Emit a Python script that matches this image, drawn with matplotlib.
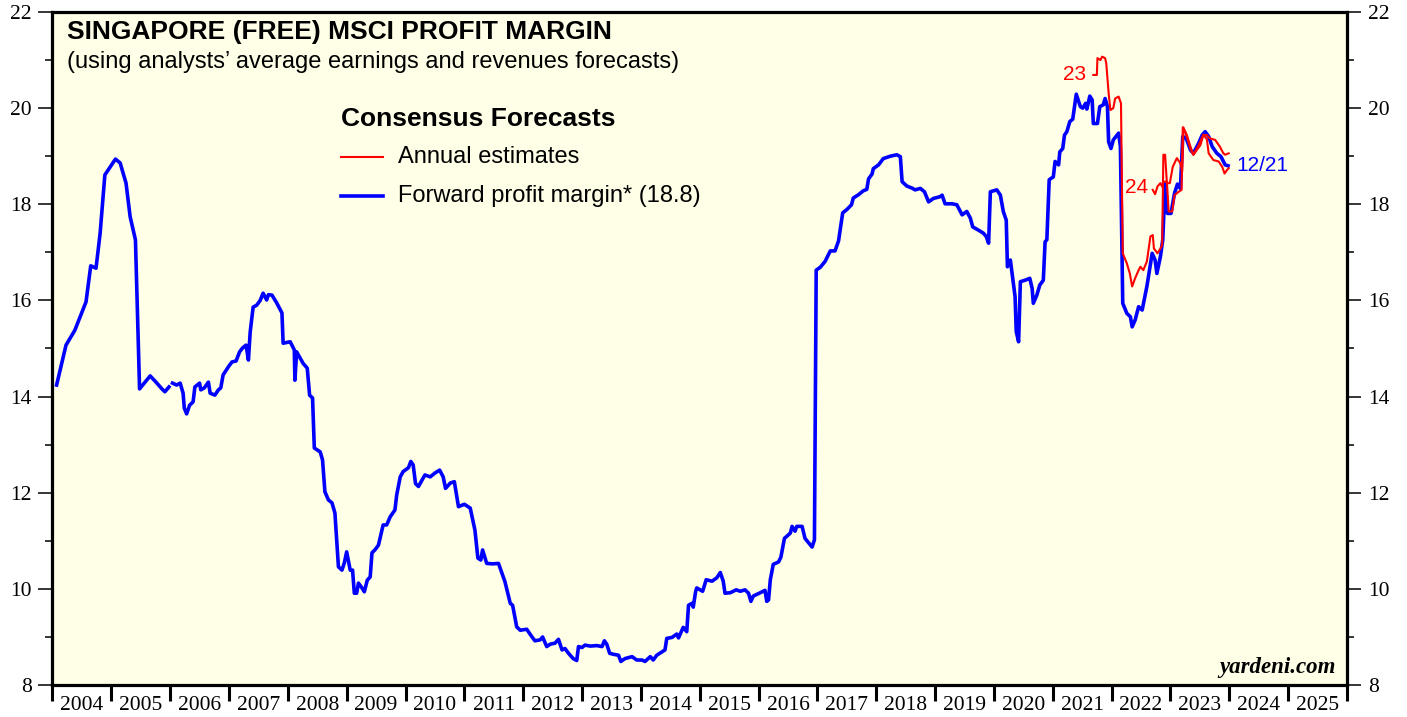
import matplotlib
matplotlib.use("Agg")
import matplotlib.pyplot as plt
import numpy as np
from matplotlib.lines import Line2D

# ---------------- data ----------------
fwd_years = [2004.07, 2004.23, 2004.38, 2004.57, 2004.65, 2004.74, 2004.81, 2004.89, 2005.07, 2005.15,
             2005.25, 2005.32, 2005.41, 2005.48, 2005.66, 2005.76, 2005.86, 2005.91, 2005.98, 2006.01,
             2006.04, 2006.11, 2006.17, 2006.22, 2006.24, 2006.28, 2006.33, 2006.39, 2006.42, 2006.50,
             2006.52, 2006.58, 2006.65, 2006.68, 2006.76, 2006.82, 2006.86, 2006.90, 2006.99, 2007.05,
             2007.12, 2007.18, 2007.23, 2007.29, 2007.33, 2007.36, 2007.41, 2007.47, 2007.53, 2007.58,
             2007.64, 2007.67, 2007.73, 2007.81, 2007.90, 2007.92, 2008.04, 2008.11, 2008.12, 2008.15,
             2008.26, 2008.33, 2008.37, 2008.42, 2008.45, 2008.55, 2008.59, 2008.63, 2008.69, 2008.75,
             2008.80, 2008.86, 2008.92, 2008.96, 2009.00, 2009.06, 2009.10, 2009.13, 2009.17, 2009.20,
             2009.26, 2009.30, 2009.35, 2009.40, 2009.43, 2009.48, 2009.54, 2009.62, 2009.68, 2009.74,
             2009.82, 2009.85, 2009.91, 2009.96, 2010.05, 2010.09, 2010.13, 2010.17, 2010.22, 2010.33,
             2010.42, 2010.50, 2010.58, 2010.64, 2010.68, 2010.76, 2010.83, 2010.90, 2011.00, 2011.10,
             2011.18, 2011.23, 2011.28, 2011.31, 2011.38, 2011.48, 2011.58, 2011.69, 2011.78, 2011.82,
             2011.89, 2011.95, 2012.06, 2012.15, 2012.20, 2012.29, 2012.33, 2012.40, 2012.46, 2012.54,
             2012.60, 2012.66, 2012.71, 2012.77, 2012.85, 2012.91, 2012.94, 2013.00, 2013.05, 2013.14,
             2013.25, 2013.34, 2013.38, 2013.42, 2013.47, 2013.53, 2013.62, 2013.66, 2013.73, 2013.85,
             2013.93, 2014.02, 2014.07, 2014.16, 2014.21, 2014.27, 2014.36, 2014.41, 2014.44, 2014.53,
             2014.61, 2014.64, 2014.72, 2014.78, 2014.81, 2014.87, 2014.89, 2014.93, 2014.95, 2015.05,
             2015.11, 2015.21, 2015.29, 2015.35, 2015.40, 2015.43, 2015.52, 2015.62, 2015.69, 2015.77,
             2015.83, 2015.87, 2015.91, 2016.03, 2016.11, 2016.14, 2016.17, 2016.20, 2016.25, 2016.34,
             2016.38, 2016.44, 2016.54, 2016.57, 2016.62, 2016.65, 2016.74, 2016.79, 2016.91, 2016.95,
             2016.98, 2017.05, 2017.13, 2017.22, 2017.30, 2017.36, 2017.43, 2017.50, 2017.58, 2017.61,
             2017.70, 2017.78, 2017.84, 2017.87, 2017.93, 2017.95, 2018.04, 2018.12, 2018.24, 2018.35,
             2018.41, 2018.44, 2018.52, 2018.62, 2018.66, 2018.75, 2018.82, 2018.89, 2018.97, 2019.09,
             2019.12, 2019.17, 2019.29, 2019.37, 2019.46, 2019.54, 2019.60, 2019.64, 2019.74, 2019.82,
             2019.87, 2019.91, 2019.94, 2020.05, 2020.11, 2020.16, 2020.21, 2020.23, 2020.28, 2020.31,
             2020.36, 2020.38, 2020.42, 2020.45, 2020.53, 2020.61, 2020.65, 2020.67, 2020.73, 2020.78,
             2020.84, 2020.87, 2020.90, 2020.94, 2021.01, 2021.04, 2021.10, 2021.12, 2021.17, 2021.20,
             2021.24, 2021.29, 2021.34, 2021.40, 2021.47, 2021.51, 2021.56, 2021.58, 2021.63, 2021.67,
             2021.69, 2021.76, 2021.80, 2021.86, 2021.89, 2021.93, 2021.95, 2021.99, 2022.03, 2022.12,
             2022.15, 2022.19, 2022.26, 2022.32, 2022.35, 2022.40, 2022.46, 2022.52, 2022.60, 2022.69,
             2022.74, 2022.77, 2022.83, 2022.87, 2022.91, 2022.95, 2023.01, 2023.07, 2023.12, 2023.17,
             2023.21, 2023.27, 2023.34, 2023.39, 2023.48, 2023.54, 2023.59, 2023.65, 2023.71, 2023.79,
             2023.86, 2023.93, 2023.98]
fwd_margin = [14.24, 15.07, 15.38, 15.97, 16.72, 16.67, 17.40, 18.61, 18.94, 18.86,
              18.44, 17.74, 17.26, 14.16, 14.43, 14.30, 14.16, 14.10, 14.20, np.nan,
              14.28, 14.24, 14.28, 14.07, 13.76, 13.64, 13.82, 13.89, 14.20, 14.28,
              14.14, 14.18, 14.30, 14.07, 14.03, 14.14, 14.18, 14.45, 14.62, 14.72,
              14.74, 14.93, 15.01, 15.07, 14.76, 15.34, 15.86, 15.90, 16.00, 16.15,
              16.01, 16.12, 16.11, 15.95, 15.74, 15.11, 15.14, 14.97, 14.34, 14.93,
              14.69, 14.59, 14.03, 13.97, 12.93, 12.85, 12.68, 12.02, 11.85, 11.79,
              11.58, 10.46, 10.39, 10.54, 10.77, 10.39, 10.39, 9.91, 9.91, 10.12,
              10.02, 9.94, 10.18, 10.25, 10.75, 10.81, 10.91, 11.33, 11.33, 11.50,
              11.64, 11.95, 12.33, 12.44, 12.52, 12.65, 12.58, 12.19, 12.13, 12.37,
              12.33, 12.41, 12.47, 12.33, 12.09, 12.20, 12.23, 11.71, 11.76, 11.68,
              11.22, 10.64, 10.60, 10.81, 10.53, 10.52, 10.53, 10.15, 9.70, 9.66,
              9.21, 9.14, 9.16, 9.00, 8.92, 8.94, 9.00, 8.80, 8.85, 8.87,
              8.95, 8.73, 8.76, 8.66, 8.55, 8.51, 8.80, 8.78, 8.83, 8.81,
              8.82, 8.80, 8.92, 8.85, 8.66, 8.64, 8.62, 8.49, 8.55, 8.59,
              8.52, 8.52, 8.49, 8.59, 8.52, 8.62, 8.69, 8.73, 8.97, 8.99,
              9.06, 8.98, 9.20, 9.11, 9.66, 9.70, 9.62, 9.94, 10.02, 9.95,
              10.19, 10.16, 10.23, 10.34, 10.16, 9.91, 9.92, 9.98, 9.95, 9.98,
              9.91, 9.74, 9.85, 9.92, 9.97, 9.74, 9.77, 10.19, 10.51, 10.56,
              10.66, 11.05, 11.16, 11.30, 11.20, 11.30, 11.30, 11.05, 10.87, 11.02,
              16.63, 16.69, 16.81, 17.03, 17.03, 17.24, 17.82, 17.89, 17.99, 18.13,
              18.20, 18.28, 18.31, 18.53, 18.63, 18.74, 18.82, 18.95, 19.00, 19.03,
              18.99, 18.47, 18.38, 18.33, 18.30, 18.33, 18.26, 18.05, 18.12, 18.16,
              18.19, 18.01, 18.01, 17.99, 17.78, 17.85, 17.71, 17.53, 17.46, 17.40,
              17.33, 17.19, 18.26, 18.30, 18.19, 17.85, 17.67, 16.70, 16.84, 16.56,
              16.08, 15.35, 15.14, 16.39, 16.42, 16.46, 16.25, 15.94, 16.11, 16.32,
              16.42, 17.22, 17.26, 18.51, 18.57, 18.89, 18.82, 19.09, 19.16, 19.44,
              19.51, 19.72, 19.77, 20.29, 20.03, 20.00, 20.10, 19.98, 20.25, 20.17,
              19.68, 19.68, 20.03, 20.07, 20.20, 20.03, 19.30, 19.16, 19.34, 19.48,
              19.20, 15.94, 15.73, 15.66, 15.45, 15.59, 15.87, 15.80, 16.29, 16.98,
              16.84, 16.56, 16.91, 17.26, 18.44, 17.81, 17.81, 18.23, 18.42, 18.33,
              19.41, 19.37, 19.13, 19.06, 19.27, 19.44, 19.51, 19.41, 19.20, 19.06,
              18.99, 18.82, 18.80]

est23_years = [2021.69, 2021.75, 2021.76, 2021.81, 2021.84, 2021.89, 2021.91, 2021.95, 2021.98, 2022.03,
               2022.06, 2022.12, 2022.16, 2022.19, 2022.26, 2022.31, 2022.35, 2022.40, 2022.46, 2022.49,
               2022.54, 2022.60, 2022.66, 2022.70, 2022.72, 2022.78, 2022.83, 2022.86, 2022.88, 2022.91,
               2022.94, 2022.99, 2023.04, 2023.11, 2023.17, 2023.20, 2023.22, 2023.28, 2023.34, 2023.39,
               2023.45, 2023.51, 2023.56, 2023.62, 2023.67, 2023.76, 2023.84, 2023.90, 2023.93, 2023.99]
est23_margin = [20.69, 20.69, 21.04, 21.00, 21.07, 21.04, 20.93, 20.31, 19.96, 20.00,
                20.20, 20.24, 20.10, 16.98, 16.77, 16.56, 16.29, 16.46, 16.63, 16.70,
                16.63, 16.81, 17.33, 17.36, 17.08, 16.98, 17.08, 17.15, 19.03, 19.03,
                18.44, 18.44, 18.78, 18.96, 18.85, 18.68, 19.60, 19.44, 19.20, 19.03,
                19.13, 19.23, 19.44, 19.44, 19.37, 19.34, 19.20, 19.06, 19.03, 19.06]

est24_years = [2022.70, 2022.74, 2022.78, 2022.83, 2022.86, 2022.88, 2022.94, 2022.97, 2023.03, 2023.07,
               2023.14, 2023.19, 2023.21, 2023.28, 2023.34, 2023.39, 2023.48, 2023.56, 2023.62, 2023.65,
               2023.73, 2023.82, 2023.88, 2023.92, 2023.96, 2023.99]
est24_margin = [18.30, 18.21, 18.37, 18.44, 18.37, 18.47, 18.47, 17.85, 17.85, 18.19,
                18.26, 18.30, 19.60, 19.40, 19.15, 19.03, 19.23, 19.45, 19.35, 19.06,
                18.92, 18.89, 18.78, 18.64, 18.71, 18.75]

year_labels = [str(y) for y in range(2004, 2026)]
y_ticks = [8, 10, 12, 14, 16, 18, 20, 22]

# ---------------- style ----------------
BG = '#FFFEE6'
BLUE = '#0000FF'
RED = '#FF0000'
SANS = ['Liberation Sans', 'DejaVu Sans']
SERIF = ['Liberation Serif', 'DejaVu Serif']

fig = plt.figure(figsize=(14.07, 7.17), dpi=100)
ax = fig.add_axes([0.0373, 0.0446, 0.9200, 0.9387])
ax.set_facecolor(BG)

ax.plot(fwd_years, fwd_margin, color=BLUE, lw=2.6, solid_joinstyle='round', zorder=3)
ax.plot(est23_years, est23_margin, color=RED, lw=1.5, zorder=4)
ax.plot(est24_years, est24_margin, color=RED, lw=1.5, zorder=4)

ax.set_xlim(2004, 2026)
ax.set_ylim(8, 22)

# x axis: year boundaries as ticks, labels centred in each year
ax.set_xticks(range(2004, 2027))
ax.set_xticklabels([])
ax.set_xticks([y + 0.5 for y in range(2004, 2026)], minor=True)
ax.set_xticklabels(year_labels, minor=True, fontfamily=SERIF, fontsize=15.5)
ax.tick_params(axis='x', which='major', direction='out', length=11.5, width=2.2, bottom=True, top=False)
ax.tick_params(axis='x', which='minor', length=0, pad=8)

# y axis both sides
ax.set_yticks(y_ticks)
ax.set_yticks(range(9, 22, 2), minor=True)
ax.tick_params(axis='y', which='both', direction='out', left=True, right=True,
               labelleft=True, labelright=True, width=1.1)
ax.tick_params(axis='y', which='major', length=10, pad=5)
ax.tick_params(axis='y', which='minor', length=5)
for lab in ax.get_yticklabels():
    lab.set_fontfamily(SERIF)
    lab.set_fontsize(15.5)

for sp in ax.spines.values():
    sp.set_linewidth(2.3)

# titles
ax.text(0.0112, 0.970, 'SINGAPORE (FREE) MSCI PROFIT MARGIN', transform=ax.transAxes,
        fontfamily=SANS, fontweight='bold', fontsize=19, va='center', ha='left')
ax.text(0.0112, 0.9257, '(using analysts\u2019 average earnings and revenues forecasts)',
        transform=ax.transAxes, fontfamily=SANS, fontsize=17, va='center', ha='left')

# legend (manual)
ax.text(0.2229, 0.841, 'Consensus Forecasts', transform=ax.transAxes,
        fontfamily=SANS, fontweight='bold', fontsize=19, va='center', ha='left')
ax.add_line(Line2D([0.2229, 0.2553], [0.7845, 0.7845], transform=ax.transAxes, color=RED, lw=1.5))
ax.text(0.2669, 0.7845, 'Annual estimates', transform=ax.transAxes,
        fontfamily=SANS, fontsize=17, va='center', ha='left')
ax.add_line(Line2D([0.2229, 0.2553], [0.7266, 0.7266], transform=ax.transAxes, color=BLUE, lw=2.6))
ax.text(0.2669, 0.7266, 'Forward profit margin* (18.8)', transform=ax.transAxes,
        fontfamily=SANS, fontsize=17, va='center', ha='left')

# series labels
ax.annotate('23', (est23_years[0], est23_margin[0]), xytext=(-5, 0), textcoords='offset points',
            color=RED, fontfamily=SANS, fontsize=15, ha='right', va='center')
ax.annotate('24', (est24_years[0], est24_margin[0]), xytext=(-3, 2), textcoords='offset points',
            color=RED, fontfamily=SANS, fontsize=15, ha='right', va='center')
ax.annotate('12/21', (fwd_years[-1], fwd_margin[-1]), xytext=(6, 0), textcoords='offset points',
            color=BLUE, fontfamily=SANS, fontsize=15, ha='left', va='center')

ax.text(0.9915, 0.0253, 'yardeni.com', transform=ax.transAxes, fontfamily=SERIF,
        fontweight='bold', fontstyle='italic', fontsize=16.5, ha='right', va='center')

fig.savefig('out.png', dpi=100, facecolor='white')
